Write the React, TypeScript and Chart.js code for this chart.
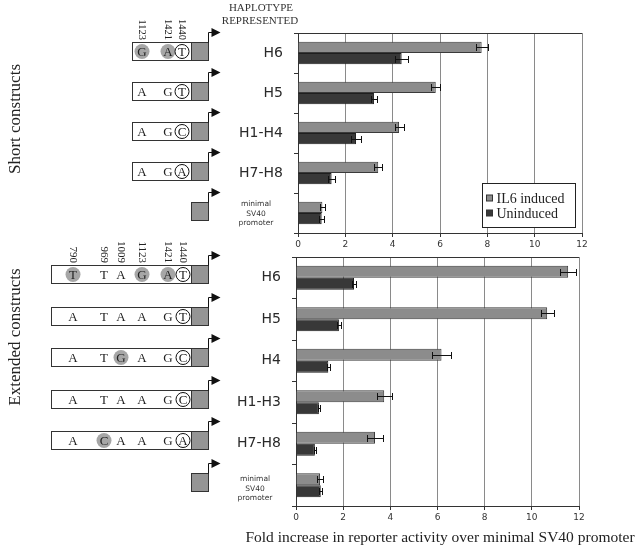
import React, { useEffect, useRef } from 'react';
import { Chart, registerables } from 'chart.js';

Chart.register(...registerables);

// ---------- data ----------
const seriesNames = ['IL6 induced', 'Uninduced'];
const xTickValues = [0, 2, 4, 6, 8, 10, 12];

const shortLabels: (string | string[])[] = ['H6', 'H5', 'H1-H4', 'H7-H8', ['minimal', 'SV40', 'promoter']];
const shortInduced = [7.76, 5.82, 4.27, 3.39, 1.03];
const shortInducedErr = [0.25, 0.2, 0.19, 0.18, 0.11];
const shortUninduced = [4.38, 3.21, 2.45, 1.42, 1.0];
const shortUninducedErr = [0.28, 0.14, 0.22, 0.14, 0.1];

const extLabels: (string | string[])[] = ['H6', 'H5', 'H4', 'H1-H3', 'H7-H8', ['minimal', 'SV40', 'promoter']];
const extInduced = [11.54, 10.65, 6.17, 3.74, 3.35, 1.02];
const extInducedErr = [0.34, 0.28, 0.42, 0.32, 0.35, 0.14];
const extUninduced = [2.46, 1.82, 1.37, 0.97, 0.8, 1.05];
const extUninducedErr = [0.08, 0.07, 0.06, 0.05, 0.04, 0.07];

// construct diagrams (alleles at each SNP position)
const shortPositions = ['1123', '1421', '1440'];
const shortAlleles = ['GAT', 'AGT', 'AGC', 'AGA', ''];
const shortMinor = [[0, 1], [], [], [], []];

const extPositions = ['790', '969', '1009', '1123', '1421', '1440'];
const extAlleles = ['TTAGAT', 'ATAAGT', 'ATGAGC', 'ATAAGC', 'ACAAGA', ''];
const extMinor = [[0, 3, 4], [], [2], [], [1], []];

// ---------- styles / layout ----------
const SERIF = '"Liberation Serif", "Times New Roman", serif';
const SANS = '"DejaVu Sans", Verdana, sans-serif';
const W = 639;
const H = 552;
const COL_INDUCED = '#8c8c8c';
const COL_UNINDUCED = '#383838';
const TEXT = '#222';

const SHORT_X = [142, 168, 182];
const EXT_X = [73, 104, 121, 142, 168, 183];
const PROM_L = 191;
const PROM_R = 208;

function drawConstructs(
  ctx: CanvasRenderingContext2D,
  yScale: any,
  alleles: string[],
  minor: number[][],
  positions: string[],
  xs: number[],
  boxLeft: number,
  rowOffset: number,
  posFont: number
) {
  ctx.save();
  alleles.forEach((row, i) => {
    const cy = yScale.getPixelForValue(i) + rowOffset;
    const top = Math.round(cy - 9) + 0.5;
    const h = 18;
    ctx.lineWidth = 1;
    ctx.strokeStyle = '#333';
    if (row.length) {
      ctx.fillStyle = '#fff';
      ctx.fillRect(boxLeft + 0.5, top, PROM_L - boxLeft, h);
      ctx.strokeRect(boxLeft + 0.5, top, PROM_L - boxLeft, h);
      row.split('').forEach((a, k) => {
        const x = xs[k];
        const last = k === row.length - 1;
        if (minor[i].includes(k)) {
          ctx.beginPath();
          ctx.arc(x, top + h / 2, 7.5, 0, Math.PI * 2);
          ctx.fillStyle = '#a6a6a6';
          ctx.fill();
        }
        if (last) {
          ctx.beginPath();
          ctx.arc(x, top + h / 2, 7, 0, Math.PI * 2);
          ctx.fillStyle = '#fff';
          ctx.fill();
          ctx.strokeStyle = '#111';
          ctx.stroke();
        }
        ctx.fillStyle = TEXT;
        ctx.font = `13px ${SERIF}`;
        ctx.textAlign = 'center';
        ctx.textBaseline = 'middle';
        ctx.fillText(a, x, top + h / 2 + 1);
      });
    }
    // promoter box
    ctx.fillStyle = '#959595';
    ctx.strokeStyle = '#333';
    ctx.fillRect(PROM_L + 0.5, top, PROM_R - PROM_L, h);
    ctx.strokeRect(PROM_L + 0.5, top, PROM_R - PROM_L, h);
    // arrow
    const ax = PROM_R + 0.5;
    const ay = top - 10;
    ctx.beginPath();
    ctx.moveTo(ax, top);
    ctx.lineTo(ax, ay);
    ctx.lineTo(ax + 4, ay);
    ctx.strokeStyle = '#111';
    ctx.stroke();
    ctx.beginPath();
    ctx.moveTo(ax + 3, ay - 4.5);
    ctx.lineTo(ax + 12, ay);
    ctx.lineTo(ax + 3, ay + 4.5);
    ctx.closePath();
    ctx.fillStyle = '#111';
    ctx.fill();
  });
  // SNP position labels above first row
  const firstTop = Math.round(yScale.getPixelForValue(0) + rowOffset - 9);
  positions.forEach((p, k) => {
    ctx.save();
    ctx.translate(xs[k], firstTop - 2);
    ctx.rotate(Math.PI / 2);
    ctx.font = `${posFont}px ${SERIF}`;
    ctx.fillStyle = TEXT;
    ctx.textAlign = 'right';
    ctx.textBaseline = 'middle';
    ctx.fillText(p, 0, 0);
    ctx.restore();
  });
  ctx.restore();
}

const errorBarPlugin = {
  id: 'errorBars',
  afterDatasetsDraw(chart: any) {
    const { ctx } = chart;
    const xs = chart.scales.x;
    chart.data.datasets.forEach((ds: any, di: number) => {
      const meta = chart.getDatasetMeta(di);
      meta.data.forEach((el: any, j: number) => {
        const v = ds.data[j];
        const e = ds.errors[j];
        const x1 = Math.round(xs.getPixelForValue(v - e)) + 0.5;
        const x2 = Math.round(xs.getPixelForValue(v + e)) + 0.5;
        const y = Math.round(el.y) + 0.5;
        const cap = 3.5;
        ctx.save();
        ctx.strokeStyle = '#111';
        ctx.lineWidth = 1;
        ctx.beginPath();
        ctx.moveTo(x1, y);
        ctx.lineTo(x2, y);
        ctx.moveTo(x1, y - cap);
        ctx.lineTo(x1, y + cap);
        ctx.moveTo(x2, y - cap);
        ctx.lineTo(x2, y + cap);
        ctx.stroke();
        ctx.restore();
      });
    });
  },
};

const framePlugin = {
  id: 'frameTop',
  afterDraw(chart: any) {
    const { ctx, chartArea } = chart;
    ctx.save();
    ctx.strokeStyle = '#333';
    ctx.lineWidth = 1;
    ctx.beginPath();
    const y = Math.round(chartArea.top) + 0.5;
    ctx.moveTo(chartArea.left, y);
    ctx.lineTo(chartArea.right, y);
    ctx.stroke();
    ctx.restore();
  },
};

function multiLineLabelPlugin(cx: number, dy: number) {
  return {
    id: 'multiLineLabel',
    afterDraw(chart: any) {
      const { ctx } = chart;
      const ys = chart.scales.y;
      chart.data.labels.forEach((lab: any, i: number) => {
        if (!Array.isArray(lab)) return;
        const c = ys.getPixelForValue(i) + dy;
        ctx.save();
        ctx.font = `7.5px ${SANS}`;
        ctx.fillStyle = '#333';
        ctx.textAlign = 'center';
        ctx.textBaseline = 'middle';
        lab.forEach((line: string, k: number) => {
          ctx.fillText(line, cx, c + (k - (lab.length - 1) / 2) * 9.5);
        });
        ctx.restore();
      });
    },
  };
}

const legendPlugin = {
  id: 'boxLegend',
  afterDraw(chart: any) {
    const { ctx } = chart;
    const x = 482.5;
    const y = 183.5;
    const w = 93;
    const h = 44;
    ctx.save();
    ctx.fillStyle = '#fff';
    ctx.fillRect(x, y, w, h);
    ctx.strokeStyle = '#222';
    ctx.lineWidth = 1;
    ctx.strokeRect(x, y, w, h);
    chart.data.datasets.forEach((ds: any, i: number) => {
      const cy = Math.round(y + 14 + i * 15);
      ctx.fillStyle = ds.backgroundColor;
      ctx.fillRect(x + 4, cy - 3, 6, 6);
      ctx.strokeStyle = '#333';
      ctx.strokeRect(x + 4, cy - 3, 6, 6);
      ctx.fillStyle = TEXT;
      ctx.font = `14px ${SERIF}`;
      ctx.textAlign = 'left';
      ctx.textBaseline = 'middle';
      ctx.fillText(ds.label, x + 14, cy + 1);
    });
    ctx.restore();
  },
};

function textPlugin(id: string, draw: (ctx: CanvasRenderingContext2D, chart: any) => void) {
  return { id, afterDraw(chart: any) { chart.ctx.save(); draw(chart.ctx, chart); chart.ctx.restore(); } };
}

function buildChart(
  canvas: HTMLCanvasElement,
  o: {
    labels: (string | string[])[];
    induced: number[];
    inducedErr: number[];
    unind: number[];
    unindErr: number[];
    left: number;
    right: number;
    top: number;
    bottom: number;
    catPct: number;
    plugins: any[];
  }
) {
  const axisH = 20;
  return new Chart(canvas, {
    type: 'bar',
    data: {
      labels: o.labels as any,
      datasets: [
        {
          label: seriesNames[0],
          data: o.induced,
          errors: o.inducedErr,
          backgroundColor: COL_INDUCED,
          borderColor: '#3a3a3a',
          borderWidth: 1,
          categoryPercentage: o.catPct,
          barPercentage: 1,
        } as any,
        {
          label: seriesNames[1],
          data: o.unind,
          errors: o.unindErr,
          backgroundColor: COL_UNINDUCED,
          borderColor: '#1e1e1e',
          borderWidth: 1,
          categoryPercentage: o.catPct,
          barPercentage: 1,
        } as any,
      ],
    },
    options: {
      indexAxis: 'y',
      animation: false,
      responsive: false,
      maintainAspectRatio: false,
      events: [],
      layout: { padding: { left: 0, top: o.top, right: W - o.right, bottom: H - o.bottom - axisH } },
      scales: {
        x: {
          type: 'linear',
          min: xTickValues[0],
          max: xTickValues[xTickValues.length - 1],
          ticks: {
            stepSize: xTickValues[1] - xTickValues[0],
            font: { family: SANS, size: 9 },
            color: '#333',
            padding: 2,
          },
          grid: { color: '#8a8a8a', tickColor: '#333', tickLength: 4, lineWidth: 1 },
          border: { color: '#333' },
          afterFit: (s: any) => {
            s.height = axisH;
          },
        },
        y: {
          type: 'category',
          ticks: {
            font: (c: any) => ({ family: SANS, size: Array.isArray(o.labels[c.index]) ? 7.5 : 14 }),
            color: (c: any) => (Array.isArray(o.labels[c.index]) ? 'rgba(0,0,0,0)' : '#2a2a2a'),
            padding: 11,
          },
          grid: { drawOnChartArea: false, tickLength: 4, offset: true, tickColor: '#333' },
          border: { color: '#333' },
          afterFit: (s: any) => {
            s.width = o.left;
          },
        },
      },
      plugins: { legend: { display: false }, tooltip: { enabled: false }, title: { display: false } },
    } as any,
    plugins: [errorBarPlugin, framePlugin, ...o.plugins],
  });
}

export default function App() {
  const topRef = useRef<HTMLCanvasElement>(null);
  const botRef = useRef<HTMLCanvasElement>(null);

  useEffect(() => {
    document.body.style.margin = '0';
    const top = buildChart(topRef.current!, {
      labels: shortLabels,
      induced: shortInduced,
      inducedErr: shortInducedErr,
      unind: shortUninduced,
      unindErr: shortUninducedErr,
      left: 298,
      right: 582,
      top: 33,
      bottom: 233,
      catPct: 0.56,
      plugins: [
        legendPlugin,
        multiLineLabelPlugin(256, 1),
        textPlugin('topTexts', (ctx, chart) => {
          ctx.fillStyle = '#333';
          ctx.font = `11px ${SERIF}`;
          ctx.textAlign = 'center';
          ctx.textBaseline = 'middle';
          ctx.fillText('HAPLOTYPE', 261, 8);
          ctx.fillText('REPRESENTED', 260, 21);
          ctx.save();
          ctx.translate(16, 119);
          ctx.rotate(-Math.PI / 2);
          ctx.font = `17px ${SERIF}`;
          ctx.fillStyle = TEXT;
          ctx.fillText('Short constructs', 0, 0);
          ctx.restore();
          drawConstructs(ctx, chart.scales.y, shortAlleles, shortMinor, shortPositions, SHORT_X, 132, -2.5, 10.5);
        }),
      ],
    });
    const bot = buildChart(botRef.current!, {
      labels: extLabels,
      induced: extInduced,
      inducedErr: extInducedErr,
      unind: extUninduced,
      unindErr: extUninducedErr,
      left: 296,
      right: 579,
      top: 257,
      bottom: 506,
      catPct: 0.58,
      plugins: [
        multiLineLabelPlugin(255, 3.5),
        textPlugin('botTexts', (ctx, chart) => {
          ctx.save();
          ctx.translate(16, 337);
          ctx.rotate(-Math.PI / 2);
          ctx.font = `17px ${SERIF}`;
          ctx.fillStyle = TEXT;
          ctx.textAlign = 'center';
          ctx.textBaseline = 'middle';
          ctx.fillText('Extended constructs', 0, 0);
          ctx.restore();
          ctx.font = `15.5px ${SERIF}`;
          ctx.fillStyle = TEXT;
          ctx.textAlign = 'center';
          ctx.textBaseline = 'alphabetic';
          ctx.fillText('Fold increase in reporter activity over minimal SV40 promoter', 440, 542);
          drawConstructs(ctx, chart.scales.y, extAlleles, extMinor, extPositions, EXT_X, 51, -3.5, 11);
        }),
      ],
    });
    return () => {
      top.destroy();
      bot.destroy();
    };
  }, []);

  const cs: React.CSSProperties = { position: 'absolute', left: 0, top: 0, width: W, height: H };
  return (
    <div style={{ position: 'absolute', left: 0, top: 0, width: W, height: H, background: '#fff' }}>
      <canvas ref={botRef} width={W} height={H} style={cs} />
      <canvas ref={topRef} width={W} height={H} style={cs} />
    </div>
  );
}
